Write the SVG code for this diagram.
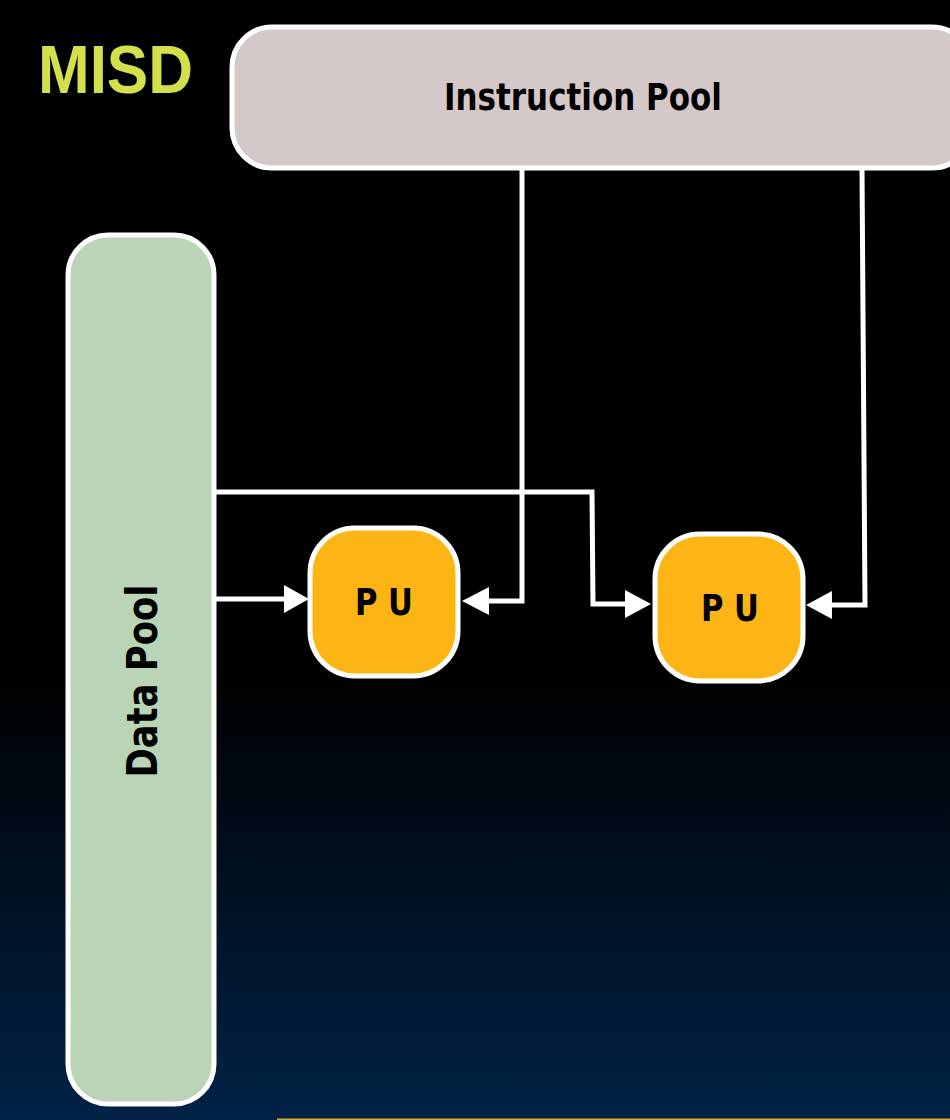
<svg xmlns="http://www.w3.org/2000/svg" width="950" height="1120" viewBox="0 0 950 1120">
  <defs>
    <linearGradient id="bg" x1="0" y1="0" x2="0" y2="1">
      <stop offset="0" stop-color="#000000"/>
      <stop offset="0.6" stop-color="#000000"/>
      <stop offset="1" stop-color="#002246"/>
    </linearGradient>
    <style>
      .box { stroke: #ffffff; stroke-width: 5; }
      .lbl { font-family: "DejaVu Sans", "Liberation Sans", sans-serif; font-weight: bold; fill: #000000; }
      .wire { fill: none; stroke: #ffffff; stroke-width: 5; stroke-linejoin: miter; }
      .head { fill: #ffffff; }
    </style>
  </defs>
  <rect x="0" y="0" width="950" height="1120" fill="url(#bg)"/>
  <rect x="277" y="1118.5" width="673" height="1.5" fill="#d9ad2e"/>

  <g id="title">
    <text x="38" y="93" font-family="Liberation Sans, Arial, sans-serif" font-weight="bold" font-size="68" fill="#d4e04b" textLength="155" lengthAdjust="spacingAndGlyphs">MISD</text>
  </g>

  <g id="instruction-pool">
    <rect class="box" x="232" y="27" width="740" height="141" rx="40" ry="40" fill="#d5c8c8"/>
    <text class="lbl" x="583" y="110" font-size="38" text-anchor="middle" textLength="278" lengthAdjust="spacingAndGlyphs">Instruction Pool</text>
  </g>

  <g id="data-pool">
    <rect class="box" x="68" y="235" width="146" height="869" rx="40" ry="40" fill="#bad4b6"/>
    <text class="lbl" transform="translate(157,681) rotate(-90)" x="0" y="0" font-size="42" text-anchor="middle" textLength="193" lengthAdjust="spacingAndGlyphs">Data Pool</text>
  </g>

  <g id="pu1">
    <rect class="box" x="310" y="528" width="148" height="148" rx="45" ry="45" fill="#fdb516"/>
    <text class="lbl" x="355" y="615" font-size="38" textLength="58" lengthAdjust="spacingAndGlyphs" xml:space="preserve">P U</text>
  </g>

  <g id="pu2">
    <rect class="box" x="655" y="534" width="148" height="147" rx="45" ry="45" fill="#fdb516"/>
    <text class="lbl" x="701" y="621" font-size="38" textLength="58" lengthAdjust="spacingAndGlyphs" xml:space="preserve">P U</text>
  </g>

  <g id="connectors">
    <!-- Data pool to PU1 -->
    <path class="wire" d="M214,599 H285"/>
    <polygon class="head" points="284,585 309,599 284,613"/>
    <!-- Data pool to PU2 -->
    <path class="wire" d="M214,492 H592 L593,604 H626"/>
    <polygon class="head" points="625,590 651,604 625,618"/>
    <!-- Instruction pool to PU1 -->
    <path class="wire" d="M522,168 V601 H487"/>
    <polygon class="head" points="489,587 462,601 489,615"/>
    <!-- Instruction pool to PU2 -->
    <path class="wire" d="M862,168 L865,605 H830"/>
    <polygon class="head" points="832,591 806,605 832,619"/>
  </g>
</svg>
